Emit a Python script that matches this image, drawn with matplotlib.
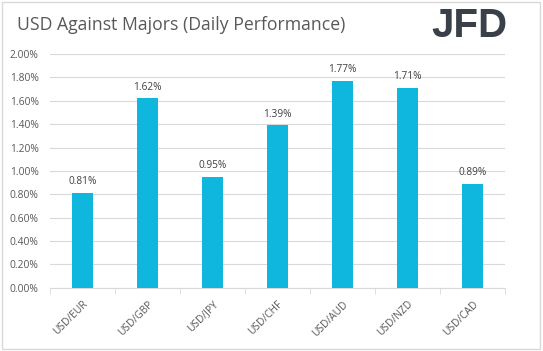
import matplotlib
matplotlib.use("Agg")
import matplotlib.pyplot as plt
from matplotlib.patches import Rectangle
from matplotlib.ticker import FuncFormatter

pairs = ["USD/EUR", "USD/GBP", "USD/JPY", "USD/CHF", "USD/AUD", "USD/NZD", "USD/CAD"]
perf = [0.81, 1.62, 0.95, 1.39, 1.77, 1.71, 0.89]
yticks = [0.0, 0.2, 0.4, 0.6, 0.8, 1.0, 1.2, 1.4, 1.6, 1.8, 2.0]

txt = "#595959"
bar_col = "#0FB7DE"
plt.rcParams['font.family'] = ['Open Sans', 'DejaVu Sans']

fig = plt.figure(figsize=(5.43, 3.51), dpi=100)
fig.patches.append(Rectangle((0.004, 0.006), 0.99, 0.988, transform=fig.transFigure,
                             fill=False, edgecolor="#D9D9D9", linewidth=1))
ax = fig.add_axes([0.092, 0.18, 0.838, 0.666])

x = range(len(pairs))
bars = ax.bar(x, perf, width=0.31, color=bar_col, zorder=3)
for i, v in enumerate(perf):
    ax.text(i, v + 0.05, "%.2f%%" % v, ha="center", va="bottom", fontsize=7.3, color="#404040")

ax.set_xlim(-0.5, len(pairs) - 0.5)
ax.set_ylim(0, 2.0)
ax.set_yticks(yticks)
ax.yaxis.set_major_formatter(FuncFormatter(lambda v, p: "%.2f%%" % v))
ax.grid(axis="y", color="#D9D9D9", linewidth=0.8, zorder=0)
for s in ["top", "right", "left"]:
    ax.spines[s].set_visible(False)
ax.spines["bottom"].set_color("#D9D9D9")
ax.tick_params(axis="y", length=0, labelsize=7.4, labelcolor=txt, pad=8)
ax.set_xticks(x)
ax.set_xticklabels(pairs, rotation=45, ha="right", rotation_mode="anchor", fontsize=7.4, color=txt)
ax.set_xticks([i - 0.5 for i in range(len(pairs) + 1)], minor=True)
ax.tick_params(axis="x", which="major", length=0, pad=8)
ax.tick_params(axis="x", which="minor", length=4, color="#D9D9D9")

fig.text(0.031, 0.928, "USD Against Majors (Daily Performance)", fontsize=12.7, color=txt,
         va="center", ha="left")
fig.text(0.935, 0.925, "JFD", fontsize=29, fontweight="bold", color="#3A4049",
         va="center", ha="right", family="Liberation Sans")

fig.savefig("out.png", dpi=100)
